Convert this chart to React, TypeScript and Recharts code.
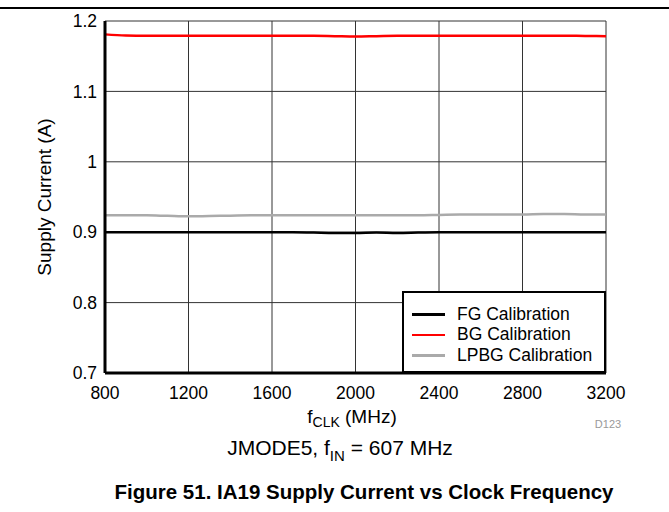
import React from 'react';
import { LineChart, Line, XAxis, YAxis, CartesianGrid } from 'recharts';

const freqs = [800, 900, 1000, 1100, 1200, 1300, 1400, 1500, 1600, 1700, 1800, 1900, 2000, 2100, 2200, 2300, 2400, 2500, 2600, 2700, 2800, 2900, 3000, 3100, 3200];
const fgValues = [0.9, 0.9, 0.9, 0.9, 0.9, 0.9, 0.9, 0.9, 0.9, 0.9, 0.8995, 0.899, 0.899, 0.8995, 0.899, 0.8995, 0.9, 0.9, 0.9, 0.9, 0.9, 0.9, 0.9, 0.9, 0.9];
const bgValues = [1.181, 1.1793, 1.179, 1.179, 1.179, 1.179, 1.179, 1.179, 1.179, 1.179, 1.179, 1.1785, 1.178, 1.1785, 1.179, 1.179, 1.179, 1.179, 1.179, 1.179, 1.179, 1.179, 1.179, 1.1788, 1.1785];
const lpbgValues = [0.924, 0.924, 0.924, 0.9232, 0.9225, 0.923, 0.9235, 0.924, 0.924, 0.924, 0.924, 0.924, 0.924, 0.924, 0.924, 0.924, 0.9245, 0.925, 0.925, 0.925, 0.925, 0.926, 0.926, 0.925, 0.925];
const xTicks = [800, 1200, 1600, 2000, 2400, 2800, 3200];
const yTicks = [0.7, 0.8, 0.9, 1.0, 1.1, 1.2];
const seriesNames = ['FG Calibration', 'BG Calibration', 'LPBG Calibration'];
const seriesColors = ['#000000', '#ff0000', '#aaaaaa'];

const data = freqs.map((f, i) => ({ f, fg: fgValues[i], bg: bgValues[i], lpbg: lpbgValues[i] }));

const FONT = '"Liberation Sans", Arial, sans-serif';

const formatY = (v: number) => (v === 1 ? '1' : v.toFixed(1));

export default function App() {
  return (
    <div style={{ position: 'absolute', left: 0, top: 0, width: 669, height: 512, background: '#fff', fontFamily: FONT }}>
      <div style={{ position: 'absolute', left: 0, top: 7, width: 669, height: 2, background: '#000' }} />
      <LineChart width={669} height={512} data={data} margin={{ top: 21, right: 63, left: 0, bottom: 0 }}>
        <CartesianGrid stroke="#333" strokeWidth={1} vertical={true} horizontal={true} />
        <XAxis dataKey="f" type="number" domain={[800, 3200]} ticks={xTicks} height={139}
          axisLine={{ stroke: '#000', strokeWidth: 3 }} tickLine={false} tickSize={0} tickMargin={14}
          tick={{ fill: '#000', fontSize: 17.5, fontFamily: FONT }} />
        <XAxis xAxisId="top" orientation="top" dataKey="f" type="number" domain={[800, 3200]} height={0}
          axisLine={{ stroke: '#000', strokeWidth: 3 }} tick={false} tickLine={false} />
        <YAxis type="number" domain={[0.7, 1.2]} ticks={yTicks} width={105} tickFormatter={formatY}
          axisLine={{ stroke: '#000', strokeWidth: 3 }} tickLine={false} tickSize={0} tickMargin={8}
          tick={{ fill: '#000', fontSize: 17.5, fontFamily: FONT }} allowDataOverflow />
        <YAxis yAxisId="right" orientation="right" type="number" domain={[0.7, 1.2]} width={0}
          axisLine={{ stroke: '#000', strokeWidth: 3 }} tick={false} tickLine={false} />
        <Line type="monotone" dataKey="fg" name={seriesNames[0]} stroke={seriesColors[0]} strokeWidth={2.5} dot={false} isAnimationActive={false} />
        <Line type="monotone" dataKey="bg" name={seriesNames[1]} stroke={seriesColors[1]} strokeWidth={2.5} dot={false} isAnimationActive={false} />
        <Line type="monotone" dataKey="lpbg" name={seriesNames[2]} stroke={seriesColors[2]} strokeWidth={2.5} dot={false} isAnimationActive={false} />
      </LineChart>
      <div style={{ position: 'absolute', left: 402, top: 291, width: 204, height: 82, boxSizing: 'border-box', border: '2px solid #000', background: '#fff', paddingTop: 11, paddingLeft: 8, fontSize: 17.5, color: '#000' }}>
        {seriesNames.map((n, i) => (
          <div key={n} style={{ display: 'flex', alignItems: 'center', height: 20.5, whiteSpace: 'nowrap' }}>
            <div style={{ width: 33, height: 2.5, background: seriesColors[i], marginRight: 12 }} />
            <span>{n}</span>
          </div>
        ))}
      </div>
      <div style={{ position: 'absolute', left: 45, top: 197, transform: 'translate(-50%, -50%) rotate(-90deg)', whiteSpace: 'nowrap', fontSize: 19, color: '#000' }}>
        Supply Current (A)
      </div>
      <div style={{ position: 'absolute', left: 352, top: 418, transform: 'translate(-50%, -50%)', whiteSpace: 'nowrap', fontSize: 19, color: '#000' }}>
        f<sub style={{ fontSize: 14 }}>CLK</sub> (MHz)
      </div>
      <div style={{ position: 'absolute', left: 608, top: 424, transform: 'translate(-50%, -50%)', whiteSpace: 'nowrap', fontSize: 11, color: '#999' }}>
        D123
      </div>
      <div style={{ position: 'absolute', left: 340, top: 450, transform: 'translate(-50%, -50%)', whiteSpace: 'nowrap', fontSize: 21, color: '#000' }}>
        JMODE5, f<sub style={{ fontSize: 15 }}>IN</sub> = 607 MHz
      </div>
      <div style={{ position: 'absolute', left: 364, top: 492, transform: 'translate(-50%, -50%)', whiteSpace: 'nowrap', fontSize: 20.5, fontWeight: 'bold', color: '#000' }}>
        Figure 51. IA19 Supply Current vs Clock Frequency
      </div>
    </div>
  );
}
